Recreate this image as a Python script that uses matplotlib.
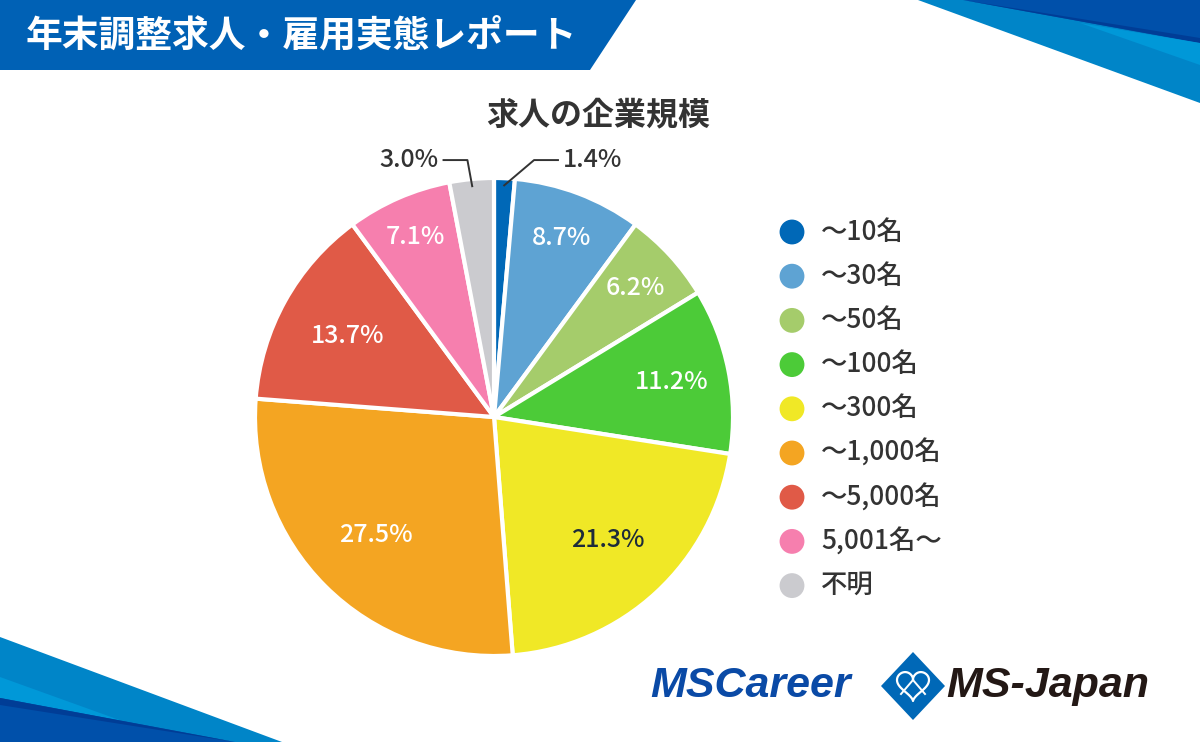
import matplotlib.pyplot as plt
from matplotlib.patches import Polygon
import numpy as np

plt.rcParams['font.family'] = ['Noto Sans CJK JP', 'DejaVu Sans']

# データ
categories = ['〜10名', '〜30名', '〜50名', '〜100名', '〜300名',
              '〜1,000名', '〜5,000名', '5,001名〜', '不明']
shares = [1.4, 8.7, 6.2, 11.2, 21.3, 27.5, 13.7, 7.1, 3.0]
colors = ['#0068b7', '#5ea3d3', '#a5cc6b', '#4ccb38', '#f0e826',
          '#f4a522', '#e05a47', '#f67fae', '#cbcbcf']
title = '求人の企業規模'
banner = '年末調整求人・雇用実態レポート'

W, H = 1200, 742
fig = plt.figure(figsize=(W / 100, H / 100), dpi=100)

# 背景の装飾（ピクセル座標）
bg = fig.add_axes([0, 0, 1, 1])
bg.set_xlim(0, W)
bg.set_ylim(H, 0)
bg.axis('off')


def poly(pts, c):
    bg.add_patch(Polygon(pts, closed=True, facecolor=c, edgecolor='none'))


# 左上のタイトル帯
poly([(0, 0), (636, 0), (590, 70), (0, 70)], '#0061b5')
bg.text(26, 36, banner, color='white', fontsize=26.5, fontweight='bold',
        va='center', ha='left')

# 右上の帯
poly([(918, 0), (1200, 0), (1200, 103)], '#0085c8')
poly([(963, 0), (1200, 0), (1200, 43)], '#0050aa')
poly([(963, 0), (1200, 38), (1200, 43)], '#003d96')
poly([(1080, 23), (1200, 43), (1200, 65)], '#0098d8')

# 左下の帯
poly([(0, 637), (282, 742), (0, 742)], '#0085c8')
poly([(0, 677), (125, 722), (0, 698)], '#0098d8')
poly([(0, 698), (235, 742), (0, 742)], '#0050aa')
poly([(0, 698), (235, 742), (0, 705)], '#003d96')

# ロゴ
bg.text(650, 686, 'MSCareer', color='#0a4aa6', fontsize=31, fontweight='bold',
        fontstyle='italic', va='center', ha='left', family='Liberation Sans')
bg.text(946, 686, 'MS-Japan', color='#231815', fontsize=31, fontweight='bold',
        fontstyle='italic', va='center', ha='left', family='Liberation Sans')
cx, cy = 913, 686
poly([(cx, cy - 34), (cx + 32, cy), (cx, cy + 34), (cx - 32, cy)], '#0068b7')
t = np.linspace(0, 2 * np.pi, 100)
hx = 16 * np.sin(t) ** 3
hy = 13 * np.cos(t) - 5 * np.cos(2 * t) - 2 * np.cos(3 * t) - np.cos(4 * t)
bg.plot(cx + hx * 1.0, cy - hy * 1.0 - 2, color='white', lw=1.6)
bg.plot([cx - 12, cx, cx + 12], [cy + 8, cy - 6, cy + 8], color='white', lw=1.4)

# グラフタイトル
bg.text(598, 115, title, color='#333333', fontsize=23, fontweight='bold',
        ha='center', va='center')

# 凡例
for i, (lab, c) in enumerate(zip(categories, colors)):
    y = 232 + i * 44.2
    bg.scatter(792, y, s=320, color=c, edgecolor='none')
    bg.text(821, y, lab, color='#333333', fontsize=19, fontweight='medium',
            va='center', ha='left')

# 円グラフ
R = 239
ccx, ccy = 494, 417
ax = fig.add_axes([(ccx - R) / W, (H - ccy - R) / H, 2 * R / W, 2 * R / H])
wedges, _ = ax.pie(shares, colors=colors, startangle=90, counterclock=False,
                   wedgeprops=dict(edgecolor='white', linewidth=3))
ax.set_xlim(-1, 1)
ax.set_ylim(-1, 1)
ax.set_aspect('equal')

label_r = [None, 0.8, 0.8, 0.76, 0.7, 0.7, 0.7, 0.82, None]
for w, v, r in zip(wedges, shares, label_r):
    if r is None:
        continue
    a = np.deg2rad((w.theta1 + w.theta2) / 2)
    col = '#1d2b3a' if v == 21.3 else 'white'
    ax.text(r * np.cos(a), r * np.sin(a), f'{v}%', color=col, fontsize=18,
            fontweight='medium', ha='center', va='center')

# 外側ラベル（1.4%, 3.0%）
for idx, side, bend in [(0, 1, 0.125), (8, -1, -0.02)]:
    w = wedges[idx]
    a = np.deg2rad((w.theta1 + w.theta2) / 2)
    x0, y0 = 0.97 * np.cos(a), 0.97 * np.sin(a)
    x1, y1 = x0 + bend, 1.075
    x2 = x1 + side * 0.1
    ax.plot([x0, x1, x2], [y0, y1, y1], color='#333333', lw=1.4,
            clip_on=False)
    ax.text(x2 + side * 0.02, y1, f'{shares[idx]}%', color='#333333',
            fontsize=18, fontweight='medium',
            ha='left' if side > 0 else 'right', va='center')

fig.savefig('out.png', dpi=100)
